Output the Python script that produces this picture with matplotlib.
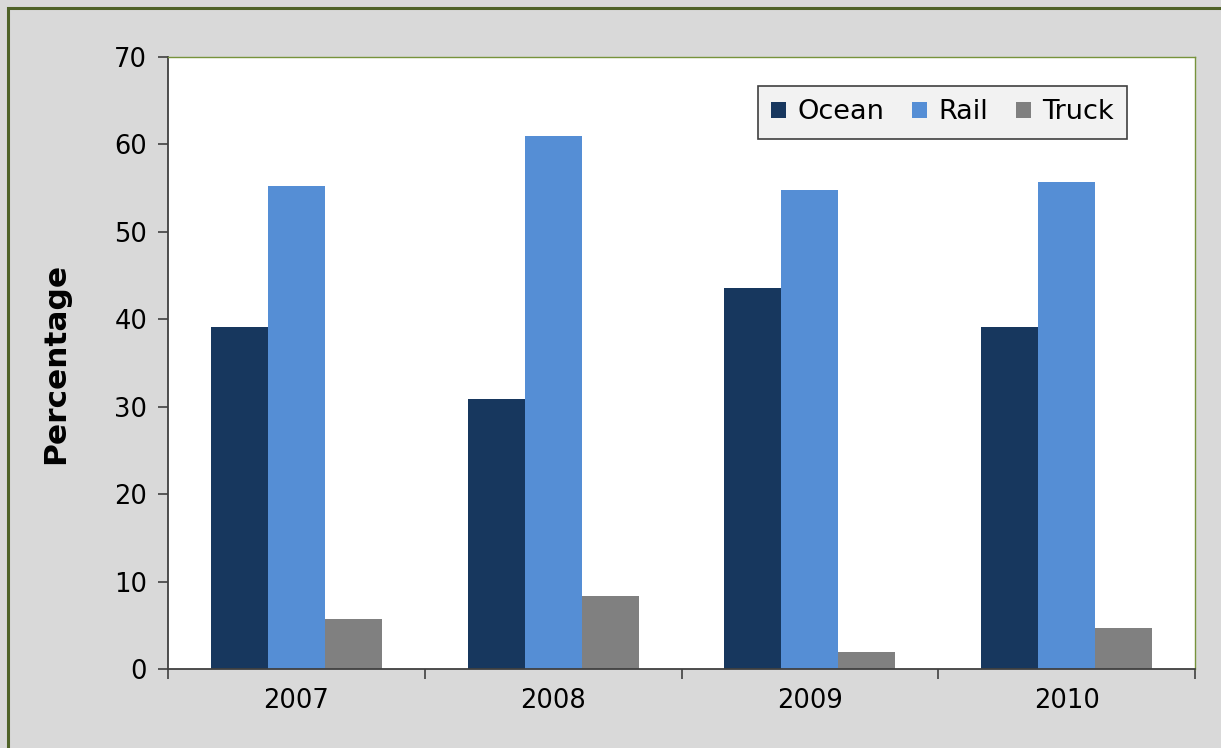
import numpy as np
import matplotlib.pyplot as plt
from matplotlib.patches import Rectangle

years = ['2007', '2008', '2009', '2010']
ocean = [39.1, 30.9, 43.6, 39.1]
rail = [55.2, 61.0, 54.8, 55.7]
truck = [5.7, 8.3, 1.9, 4.7]

series = [('Ocean', ocean, '#17375E'),
          ('Rail', rail, '#558ED5'),
          ('Truck', truck, '#808080')]

W, H = 1221, 748
fig = plt.figure(figsize=(W / 100, H / 100), dpi=100)
fig.patch.set_facecolor('#D9D9D9')

# outer chart border (runs off the right/bottom edge)
fig.patches.append(Rectangle((8 / W, -0.05), 1.1, 1 - 8 / H + 0.05,
                             transform=fig.transFigure, fill=False,
                             edgecolor='#4F6228', linewidth=2.2))

ax = fig.add_axes([168 / W, 1 - 669 / H, (1195 - 168) / W, (669 - 57) / H])
ax.set_facecolor('white')

x = np.arange(len(years))
bw = 0.222
for i, (name, vals, col) in enumerate(series):
    ax.bar(x + (i - 1) * bw, vals, width=bw, color=col, label=name, zorder=2)

ax.set_xlim(-0.5, len(years) - 0.5)
ax.set_ylim(0, 70)
ax.set_yticks(np.arange(0, 71, 10))
ax.set_xticks(x)
ax.set_xticklabels(years)
ax.set_xticks(np.arange(-0.5, len(years), 1), minor=True)
ax.tick_params(axis='x', which='major', length=0, pad=14, labelsize=18.5)
ax.tick_params(axis='x', which='minor', length=7, width=1.2, color='#404040')
ax.tick_params(axis='y', length=7, width=1.2, color='#404040', labelsize=18.5, pad=8)

for s in ['left', 'bottom']:
    ax.spines[s].set_color('#404040')
    ax.spines[s].set_linewidth(1.3)
for s in ['top', 'right']:
    ax.spines[s].set_color('#77933C')
    ax.spines[s].set_linewidth(1.0)

ax.set_ylabel('Percentage', fontsize=22.5, fontweight='bold', labelpad=32)

leg = ax.legend(loc='upper right', bbox_to_anchor=(0.934, 0.953), ncol=3,
                fontsize=19.5, frameon=True, fancybox=False, handlelength=0.55,
                handleheight=0.55, handletextpad=0.4, columnspacing=1.05,
                borderpad=0.5, borderaxespad=0)
leg.get_frame().set_facecolor('#F2F2F2')
leg.get_frame().set_edgecolor('#404040')
leg.get_frame().set_linewidth(1.2)
leg.get_frame().set_alpha(1)

fig.savefig('out.png', dpi=100, facecolor=fig.get_facecolor())
